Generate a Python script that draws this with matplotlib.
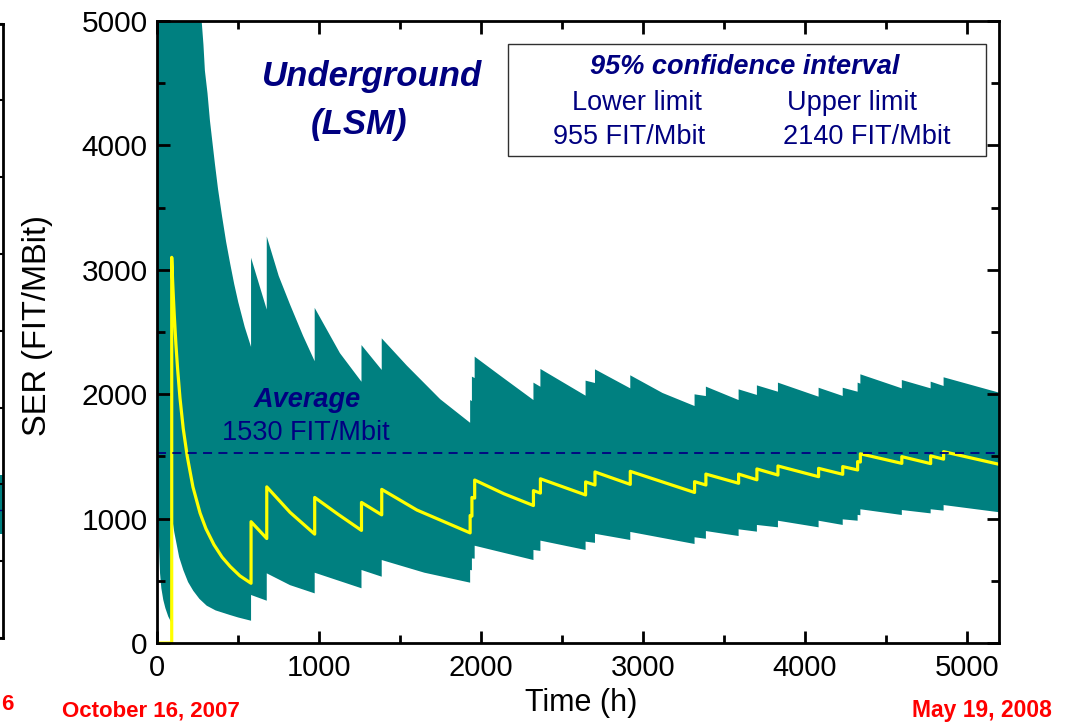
"""SER vs time with 95% confidence band (Underground, LSM)."""
import matplotlib
matplotlib.use("Agg")
import matplotlib.pyplot as plt
from matplotlib.patches import Rectangle
from matplotlib.ticker import MultipleLocator

plt.rcParams["font.family"] = ["Liberation Sans", "DejaVu Sans"]

# --- data (time in h, SER in FIT/Mbit) ---
estimate_pts = [
    (0, 0), (89, 0), (89, 3100), (92, 3000), (95, 2900), (100, 2760),
    (105, 2630), (115, 2400), (125, 2210), (140, 1970), (160, 1725),
    (185, 1500), (220, 1255), (264, 1045), (300, 920), (350, 790),
    (400, 690), (450, 615), (510, 540), (579, 480),
    (579, 975), (676, 840), (676, 1255), (820, 1050), (972, 875),
    (972, 1170), (1116, 1035), (1261, 905), (1261, 1130), (1386, 1030),
    (1386, 1235), (1603, 1069), (1932, 885), (1932, 1025), (1943, 1020),
    (1943, 1170), (1960, 1165), (1960, 1310), (2140, 1200), (2323, 1105),
    (2323, 1225), (2366, 1205), (2366, 1320), (2645, 1190), (2645, 1295),
    (2703, 1270), (2703, 1375), (2921, 1275), (2921, 1380), (3318, 1210),
    (3318, 1297), (3388, 1270), (3388, 1358), (3590, 1284), (3590, 1358),
    (3703, 1312), (3703, 1399), (3833, 1350), (3833, 1423), (4084, 1337),
    (4084, 1404), (4233, 1356), (4233, 1418), (4325, 1391), (4325, 1458),
    (4342, 1455), (4342, 1521), (4598, 1444), (4598, 1498), (4776, 1442),
    (4776, 1504), (4856, 1478), (4856, 1538), (5200, 1436),
]

upper_pts = [
    (0, 30000), (89, 15400), (150, 9100), (200, 6850), (240, 5700),
    (260, 5270), (274, 5000), (285, 4810), (294, 4600), (310, 4420),
    (325, 4200), (340, 4030), (356, 3850), (375, 3650), (400, 3430),
    (425, 3225), (450, 3050), (475, 2885), (500, 2740), (540, 2540),
    (579, 2380), (579, 3097), (676, 2680),
    (676, 3268), (750, 2950), (820, 2720), (900, 2470), (972, 2265),
    (972, 2694), (1128, 2330),
    (1261, 2100), (1261, 2395), (1386, 2195), (1386, 2449), (1541, 2230),
    (1747, 1960), (1932, 1770), (1932, 1953), (1943, 1945), (1943, 2141),
    (1960, 2130), (1960, 2302), (2117, 2150), (2323, 1953), (2323, 2093),
    (2366, 2060), (2366, 2203), (2645, 1988), (2645, 2109), (2703, 2090),
    (2703, 2200), (2921, 2047), (2921, 2152), (3120, 2010), (3318, 1905),
    (3318, 1999), (3388, 1985), (3388, 2061), (3590, 1953), (3590, 2039),
    (3703, 1994), (3703, 2071), (3833, 2020), (3833, 2093), (4084, 1980),
    (4084, 2052), (4233, 1986), (4233, 2052), (4325, 2020), (4325, 2093),
    (4342, 2085), (4342, 2160), (4598, 2047), (4598, 2114), (4776, 2047),
    (4776, 2101), (4856, 2066), (4856, 2136), (5200, 2012),
]

lower_pts = [
    (0, 1100), (3, 1030), (6, 962), (10, 800), (17, 560), (25, 440),
    (37, 346), (50, 280), (68, 212), (89, 160),
    (89, 1030), (95, 975), (105, 890), (120, 790), (135, 690), (161, 585),
    (190, 490), (222, 420), (260, 355), (305, 300), (360, 262), (449, 225),
    (500, 205), (579, 179), (579, 386), (676, 340), (676, 560), (820, 465),
    (972, 399),
    (972, 565), (1261, 440), (1261, 587), (1386, 533), (1386, 667),
    (1650, 565), (1932, 485), (1932, 587), (1943, 585), (1943, 680),
    (1960, 678), (1960, 782), (2323, 667), (2323, 748), (2366, 740),
    (2366, 823), (2645, 748), (2645, 815), (2703, 805), (2703, 878),
    (2921, 828), (2921, 893), (3318, 796), (3318, 850), (3388, 838),
    (3388, 900), (3590, 860), (3590, 914), (3703, 895), (3703, 949),
    (3833, 930), (3833, 983), (4084, 930), (4084, 983), (4233, 949),
    (4233, 994), (4325, 983), (4325, 1030), (4342, 1027), (4342, 1075),
    (4598, 1029), (4598, 1069), (4776, 1042), (4776, 1075), (4856, 1064),
    (4856, 1109), (5200, 1051),
]

average_ser = 1530
ci_lower = 955
ci_upper = 2140

# pieces of the neighbouring chart that show at the left edge
neighbor_band = (1.35, 2.12)
neighbor_avg = 1.67

TEAL = "#008080"
NAVY = "#000080"
YELLOW = "#FFFF00"
RED = "#FF0000"

est_t, est_v = zip(*estimate_pts)
up_t, up_v = zip(*upper_pts)
lo_t, lo_v = zip(*lower_pts)

fig = plt.figure(figsize=(10.72, 7.27), dpi=100)
ax = fig.add_axes([157.3 / 1072, 84 / 727, 842 / 1072, 622 / 727])

ax.fill(list(up_t) + list(lo_t[::-1]), list(up_v) + list(lo_v[::-1]),
        color=TEAL, lw=0, zorder=1)
ax.plot(est_t, est_v, color=YELLOW, lw=2.3, zorder=3)
ax.axhline(average_ser, color=NAVY, lw=1.3, dashes=(5, 3.5), zorder=4)

ax.set_xlim(0, 5200)
ax.set_ylim(0, 5000)
ax.xaxis.set_major_locator(MultipleLocator(1000))
ax.xaxis.set_minor_locator(MultipleLocator(500))
ax.yaxis.set_major_locator(MultipleLocator(1000))
ax.yaxis.set_minor_locator(MultipleLocator(500))
ax.tick_params(which="both", direction="in", top=True, right=True,
               width=2.0, color="black")
ax.tick_params(which="major", length=9)
ax.tick_params(which="minor", length=5.5)
ax.tick_params(axis="x", labelsize=21, pad=8)
ax.tick_params(axis="y", labelsize=21.5, pad=7)
for sp in ax.spines.values():
    sp.set_linewidth(2.0)
    sp.set_zorder(6)

ax.set_xlabel("Time (h)", fontsize=22)
ax.xaxis.set_label_coords(0.503, -0.073)
ax.set_ylabel("SER (FIT/MBit)", fontsize=23.5)
ax.yaxis.set_label_coords(-0.124, 0.51)

bold_it = dict(color=NAVY, fontweight="bold", fontstyle="italic",
               ha="center", va="center", transform=ax.transAxes)
plain = dict(color=NAVY, ha="center", va="center", transform=ax.transAxes)

ax.text(0.2556, 0.910, "Underground", fontsize=25, **bold_it)
ax.text(0.2396, 0.833, "(LSM)", fontsize=25, **bold_it)

ax.add_patch(Rectangle((0.4169, 0.783), 0.5674, 0.18, transform=ax.transAxes,
                       facecolor="white", edgecolor="#303030", lw=1.0,
                       zorder=5))
ax.text(0.6977, 0.9265, "95% confidence interval", fontsize=19.5,
        zorder=7, **bold_it)
ax.text(0.5694, 0.8677, "Lower limit", fontsize=19.5, zorder=7, **plain)
ax.text(0.8251, 0.8677, "Upper limit", fontsize=19.5, zorder=7, **plain)
ax.text(0.5599, 0.814, f"{ci_lower} FIT/Mbit", fontsize=19.5, zorder=7, **plain)
ax.text(0.8429, 0.814, f"{ci_upper} FIT/Mbit", fontsize=19.5, zorder=7, **plain)

ax.text(0.1778, 0.3907, "Average", fontsize=19.5, zorder=7, **bold_it)
ax.text(0.1766, 0.3371, f"{average_ser} FIT/Mbit", fontsize=19.5, zorder=7,
        **plain)

# dates under the axis
fig.text(62 / 1072, 1 - 711 / 727, "October 16, 2007", color=RED,
         fontweight="bold", fontsize=16, ha="left", va="center")
fig.text(1052 / 1072, 1 - 711 / 727, "May 19, 2008", color=RED,
         fontweight="bold", fontsize=16.5, ha="right", va="center")
fig.text(1 / 1072, 1 - 705 / 727, "6", color=RED, fontweight="bold",
         fontsize=16, ha="left", va="center")

# right edge of the neighbouring chart
nb = fig.add_axes([-0.1, 89 / 727, 0.1 + 3 / 1072, 614.5 / 727])
nb.set_xlim(0, 1)
nb.set_ylim(0, 8)
nb.axhspan(*neighbor_band, color=TEAL, lw=0)
nb.axhline(neighbor_avg, color=NAVY, lw=1.0)
nb.set_yticks(range(9))
nb.set_xticks([])
nb.tick_params(axis="y", direction="in", left=False, right=True,
               labelleft=False, length=8, width=1.5)
nb.spines["left"].set_visible(False)
for side in ("right", "top", "bottom"):
    nb.spines[side].set_linewidth(2.0)

fig.savefig("out.png", dpi=100)
